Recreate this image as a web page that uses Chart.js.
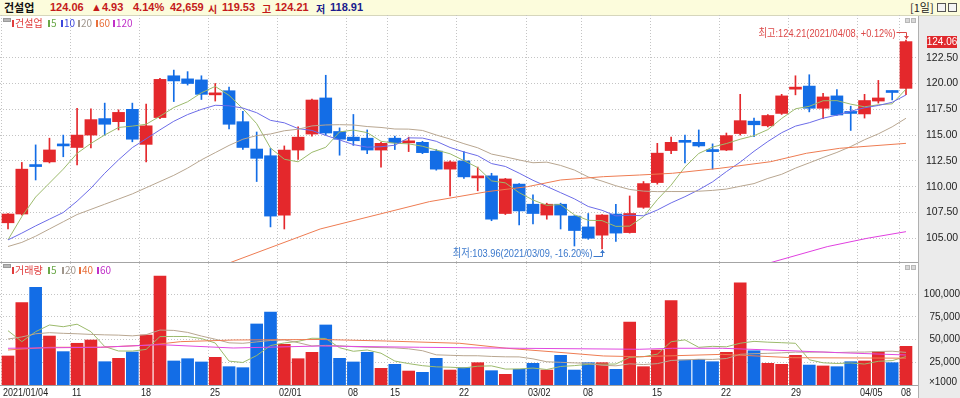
<!DOCTYPE html>
<html>
<head>
<meta charset="utf-8">
<script src="https://cdn.jsdelivr.net/npm/chart.js@4.4.1/dist/chart.umd.min.js"></script>
<style>
  body { margin: 0; width: 960px; height: 398px; background: #fff; position: relative; overflow: hidden;
         font-family: "Liberation Sans", "Noto Sans CJK KR", sans-serif; }
  #hdr { position: absolute; left: 0; top: 0; width: 960px; height: 16px; background: #fcfcdc;
         border-bottom: 1px solid #d6d6bc; box-sizing: border-box; }
  #hdr span { position: absolute; top: 1px; font-size: 11px; font-weight: bold; line-height: 13px; white-space: nowrap; }
  #hdr .k { font-family: "Noto Sans CJK KR", sans-serif; font-size: 11px; }
  #hdr .k1 { font-family: "Noto Sans CJK KR", sans-serif; font-size: 10px; top: 1.5px; }
  .r { color: #c41a1a; }
  .b { color: #1a1a8c; }
  .btn { position: absolute; top: 3px; width: 9px; height: 9px; border: 1px solid #555; background: #f4f4f4; box-sizing: border-box; }
  #axisbg { position: absolute; left: 918px; top: 16px; width: 42px; height: 382px; background: #ebebeb; border-left: 1px solid #b0b0b0; box-sizing: border-box; }
  .sep { position: absolute; left: 0; width: 918px; height: 1px; background: #a4a4a4; }
  canvas { position: absolute; left: 0; }
  #cPrice { top: 15px; }
  #cVol { top: 262px; }
  .lg { position: absolute; font-family: "Noto Sans CJK KR", sans-serif; font-size: 10px; line-height: 12px; white-space: nowrap; }
  .lg i { display: inline-block; width: 2px; height: 7px; margin-right: 1px; vertical-align: 0px; }
  .ic { position: absolute; width: 8px; height: 4px; background: #b8b8b8; border: 1px solid #9a9a9a; box-sizing: border-box; }
  .mini { position: absolute; width: 5px; height: 5px; background: #d8d8d8; border: 1px solid #b8b8b8; box-sizing: border-box; }
</style>
</head>
<body>
<div id="hdr">
  <span class="k" style="left:4px;color:#111">건설업</span>
  <span class="r" style="left:50px">124.06</span>
  <span class="r" style="left:91px">▲4.93</span>
  <span class="r" style="left:133px">4.14%</span>
  <span class="r" style="left:170px">42,659</span>
  <span class="r k1" style="left:208px">시</span>
  <span class="r" style="left:222px">119.53</span>
  <span class="r k1" style="left:262px">고</span>
  <span class="r" style="left:275px">124.21</span>
  <span class="b k1" style="left:316px">저</span>
  <span class="b" style="left:330px">118.91</span>
  <span class="k" style="left:910px;font-weight:normal;color:#222">[1일]</span>
  <div class="btn" style="left:937px"></div>
  <div class="btn" style="left:948px"></div>
</div>
<div id="axisbg"></div>

<canvas id="cPrice" width="960" height="247"></canvas>
<canvas id="cVol" width="960" height="136"></canvas>

<div class="sep" style="top:262px"></div>
<div class="sep" style="top:385px"></div>

<div class="ic" style="left:3px;top:18px"></div>
<div class="lg" style="left:12px;top:17px;color:#e03c3c"><i style="background:#e03c3c"></i>건설업</div>
<div class="lg" style="left:48px;top:17px;color:#6aa848"><i style="background:#6aa848"></i>5</div>
<div class="lg" style="left:61px;top:17px;color:#3c46dc"><i style="background:#3c46dc"></i>10</div>
<div class="lg" style="left:78px;top:17px;color:#a0968c"><i style="background:#a0968c"></i>20</div>
<div class="lg" style="left:96px;top:17px;color:#e8703c"><i style="background:#e8703c"></i>60</div>
<div class="lg" style="left:113px;top:17px;color:#c030c8"><i style="background:#c030c8"></i>120</div>
<div class="mini" style="left:905px;top:18px"></div>
<div class="mini" style="left:911px;top:18px"></div>

<div class="ic" style="left:3px;top:264px"></div>
<div class="lg" style="left:12px;top:264px;color:#e03c3c"><i style="background:#e03c3c"></i>거래량</div>
<div class="lg" style="left:48px;top:264px;color:#6aa848"><i style="background:#6aa848"></i>5</div>
<div class="lg" style="left:62px;top:264px;color:#a0968c"><i style="background:#a0968c"></i>20</div>
<div class="lg" style="left:79px;top:264px;color:#e8703c"><i style="background:#e8703c"></i>40</div>
<div class="lg" style="left:97px;top:264px;color:#c030c8"><i style="background:#c030c8"></i>60</div>
<div class="mini" style="left:905px;top:265px"></div>
<div class="mini" style="left:911px;top:265px"></div>

<script>
// 거래일 (2021)
const dates = [
  '01/04','01/05','01/06','01/07','01/08','01/11','01/12','01/13','01/14','01/15',
  '01/18','01/19','01/20','01/21','01/22','01/25','01/26','01/27','01/28','01/29',
  '02/01','02/02','02/03','02/04','02/05','02/08','02/09','02/10','02/15','02/16',
  '02/17','02/18','02/19','02/22','02/23','02/24','02/25','02/26','03/02','03/03',
  '03/04','03/05','03/08','03/09','03/10','03/11','03/12','03/15','03/16','03/17',
  '03/18','03/19','03/22','03/23','03/24','03/25','03/26','03/29','03/30','03/31',
  '04/01','04/02','04/05','04/06','04/07','04/08'
];

// 시가 / 고가 / 저가 / 종가
const open = [
  106.5, 107.35, 112.05, 112.4, 114.0, 113.8, 115.0, 116.6, 116.3, 117.5,
  114.1, 116.7, 120.75, 120.45, 120.35, 118.9, 119.3, 116.3, 113.65, 113.0,
  107.25, 113.55, 115.1, 118.6, 115.35, 114.8, 114.7, 113.55, 114.7, 114.25,
  114.3, 113.45, 111.7, 112.5, 110.85, 111.05, 107.4, 110.25, 108.3, 107.25,
  108.3, 107.15, 106.1, 105.3, 107.35, 105.55, 108.0, 110.4, 113.5, 114.4,
  114.3, 113.6, 113.55, 115.15, 116.35, 115.9, 117.1, 119.45, 119.75, 117.6,
  118.8, 117.15, 117.05, 118.3, 119.2, 119.53
];
const high = [
  107.4, 112.35, 114.05, 114.7, 115.0, 117.6, 117.55, 118.1, 117.45, 118.1,
  118.0, 120.5, 121.3, 121.15, 120.75, 120.0, 119.65, 117.3, 115.3, 113.7,
  113.95, 115.8, 118.5, 120.8, 115.7, 117.0, 115.5, 114.3, 114.9, 114.8,
  114.4, 113.6, 112.5, 113.4, 111.9, 111.3, 110.8, 110.3, 109.2, 108.4,
  108.4, 107.2, 107.4, 107.3, 108.3, 109.1, 110.5, 114.2, 114.8, 115.0,
  115.5, 114.15, 115.2, 118.95, 116.65, 117.0, 118.95, 120.75, 120.85, 119.05,
  119.4, 117.8, 118.95, 120.3, 119.3, 124.21
];
const low = [
  105.9, 107.25, 110.65, 112.3, 112.9, 112.1, 113.75, 115.0, 115.5, 114.35,
  112.4, 116.6, 118.25, 119.85, 118.45, 118.3, 115.6, 113.6, 110.5, 106.1,
  105.9, 112.65, 114.9, 115.0, 113.05, 114.0, 113.2, 111.9, 113.6, 113.4,
  113.2, 111.6, 109.1, 110.8, 109.6, 106.7, 107.3, 106.3, 106.4, 106.85,
  105.9, 104.25, 104.9, 103.96, 104.7, 105.5, 107.9, 110.25, 113.2, 112.3,
  113.85, 111.7, 113.5, 115.0, 114.85, 115.8, 117.0, 118.9, 117.25, 116.6,
  116.9, 115.45, 116.65, 118.1, 118.4, 118.91
];
const close = [
  107.35, 111.7, 111.95, 113.56, 113.95, 115.0, 116.5, 116.05, 117.2, 114.6,
  115.9, 120.4, 120.25, 120.0, 118.95, 119.0, 116.05, 113.8, 112.75, 107.15,
  113.55, 114.8, 118.4, 115.2, 114.6, 114.45, 113.55, 114.2, 114.25, 114.3,
  113.3, 111.7, 112.4, 110.95, 110.9, 106.85, 110.75, 107.65, 107.4, 108.3,
  107.25, 105.75, 105.0, 107.25, 105.5, 107.4, 110.3, 113.25, 114.3, 114.3,
  113.95, 113.4, 114.95, 116.4, 116.0, 116.9, 118.8, 119.65, 117.6, 118.7,
  116.95, 117.1, 118.35, 118.6, 119.13, 124.06
];

// 거래량
const volume = [
  32000, 90800, 107700, 54000, 36800, 46000, 49600, 25700, 29400, 36400,
  55100, 120200, 26500, 29000, 25400, 30500, 20200, 19100, 67300, 80500,
  44900, 29000, 36000, 66200, 29400, 25400, 36000, 18400, 22800, 15400,
  14000, 29400, 16500, 19100, 24600, 15800, 11800, 17300, 23900, 16500,
  32700, 16500, 24600, 24600, 17300, 69500, 20200, 38600, 93000, 27600,
  28300, 25700, 36000, 112800, 37800, 23900, 22800, 32700, 22000, 21000,
  20200, 25700, 26500, 36700, 24600, 42659
];

// 가격 이동평균 (5, 10, 20 일)
const ma5 = [
  104.85, 107.1, 109.0, 110.35, 111.7, 113.23, 114.19, 115.01, 115.74, 115.87,
  116.05, 116.83, 117.67, 118.23, 119.1, 119.72, 118.85, 117.56, 116.11, 113.75,
  112.66, 112.41, 113.33, 113.82, 115.31, 115.49, 115.24, 114.4, 114.21, 114.15,
  113.92, 113.55, 113.19, 112.53, 111.85, 110.56, 110.37, 109.42, 108.71, 108.19,
  108.27, 107.27, 106.74, 106.71, 106.15, 106.18, 107.09, 108.74, 110.15, 111.91,
  113.22, 113.84, 114.18, 114.6, 114.94, 115.53, 116.61, 117.55, 117.79, 118.33,
  118.34, 118.0, 117.74, 117.94, 118.03, 119.45
];
const ma10 = [
  104.84, 105.5, 106.2, 106.85, 107.5, 108.6, 109.85, 111.3, 112.6, 113.79,
  114.64, 115.51, 116.34, 116.99, 117.49, 117.89, 117.84, 117.62, 117.17, 116.43,
  116.19, 115.63, 115.45, 114.97, 114.53, 114.08, 113.83, 113.87, 114.02, 114.73,
  114.71, 114.4, 113.8, 113.37, 113.0, 112.24, 111.96, 111.31, 110.62, 110.02,
  109.42, 108.82, 108.08, 107.71, 107.17, 107.23, 107.18, 107.74, 108.43, 109.03,
  109.7, 110.47, 111.46, 112.38, 113.43, 114.38, 115.23, 115.87, 116.2, 116.64,
  116.94, 117.31, 117.65, 117.87, 118.18, 118.89
];
const ma20 = [
  104.2, 104.6, 105.2, 105.9, 106.6, 107.3, 107.8, 108.3, 108.8, 109.3,
  109.9, 110.5, 111.1, 111.8, 112.6, 113.3, 114.0, 114.6, 114.95, 115.11,
  115.42, 115.57, 115.89, 115.98, 116.01, 115.98, 115.83, 115.74, 115.59, 115.58,
  115.45, 115.01, 114.62, 114.17, 113.77, 113.16, 112.89, 112.59, 112.32, 112.38,
  112.06, 111.61, 110.94, 110.54, 110.09, 109.73, 109.57, 109.52, 109.53, 109.53,
  109.56, 109.64, 109.77, 110.04, 110.3, 110.8, 111.2, 111.8, 112.31, 112.83,
  113.32, 113.89, 114.55, 115.12, 115.8, 116.63
];
// 60, 120 일선: 그림에서 읽은 지점
const ma60Idx = [16, 22.6, 30.5, 34.7, 37.6, 40, 43.1, 45.7, 48.1, 51.5, 55.2, 57.8, 60.2, 65];
const ma60Val = [102.6, 105.9, 108.55, 109.52, 110.0, 110.65, 110.97, 111.13, 111.3, 111.78, 112.42, 113.24, 113.72, 114.2];
const ma120Idx = [55.2, 59.3, 62.2, 65];
const ma120Val = [102.64, 104.19, 105.0, 105.64];

// 거래량 이동평균 (5, 20, 40, 60)
const vma5 = [
  59900, 47800, 58800, 66200, 64260, 67060, 58820, 42420, 37500, 37420,
  39240, 53360, 53520, 53440, 51240, 46320, 26320, 24840, 32500, 43520,
  46400, 48160, 51540, 51320, 41100, 37200, 38600, 35080, 26400, 23600,
  21320, 20000, 19620, 18880, 20720, 21080, 17560, 17720, 18680, 17060,
  20440, 21380, 22840, 22980, 23140, 30500, 31240, 34040, 47720, 49780,
  41540, 42640, 42120, 46080, 48120, 47240, 46660, 46000, 27840, 24480,
  23740, 24320, 23080, 26140, 26860, 31320
];
const vma20 = [
  50700, 53000, 56500, 57700, 57000, 56500, 55800, 55300, 55000, 54200,
  55500, 60600, 60200, 58000, 54000, 50500, 46500, 46000, 47500, 49110,
  49760, 46670, 43080, 43690, 43320, 42290, 41610, 41250, 40920, 39870,
  37810, 33270, 32770, 32280, 32240, 31500, 31080, 30990, 28820, 25620,
  25010, 24390, 23820, 21740, 21130, 23340, 22550, 23560, 27070, 27680,
  28390, 28210, 29180, 33870, 34530, 34930, 35480, 36250, 36160, 36380,
  35760, 36220, 36310, 36920, 37280, 35940
];
const vma40Idx = [0, 3, 6.7, 10.3, 12.5, 16.3, 22.6, 27.4, 32.7, 36.1, 39.5, 43.1, 45.7, 51.7, 56.8, 65];
const vma40Val = [38600, 41600, 41600, 44100, 47800, 49600, 50200, 48500, 46000, 40500, 36500, 32000, 31200, 33800, 30100, 29600];
const vma60Idx = [0, 6.7, 11, 16.3, 22.6, 29.8, 37, 45.7, 48.1, 51.7, 56.6, 60.2, 65];
const vma60Val = [40500, 41600, 44500, 40800, 43000, 41600, 40500, 39400, 40500, 40500, 37800, 35600, 33100];

// 축 눈금
const priceTicks = [105, 107.5, 110, 112.5, 115, 117.5, 120, 122.5];
const volTicks = [25000, 50000, 75000, 100000];
const xTickIdx = [0, 5, 10, 15, 20, 25, 28, 33, 38, 42, 47, 52, 57, 62, 65];
const xTickText = ['2021/01/04', '11', '18', '25', '02/01', '08', '15', '22', '03/02', '08', '15', '22', '29', '04/05', '08'];

const RED = '#e4282c';
const BLUE = '#136de6';
const GRID = '#c4c4c4';
const candleColor = close.map((c, i) => c >= open[i] ? RED : BLUE);
const idx = dates.map((d, i) => i);
const pts = (xs, ys) => xs.map((x, k) => ({ x: x, y: ys[k] }));
const series = ys => ys.map((y, i) => ({ x: i, y: y }));

function maLine(data, color) {
    return { type: 'line', data: data, borderColor: color, borderWidth: 1, pointRadius: 0, tension: 0, fill: false, order: 0 };
}

function xAxis() {
    return {
        type: 'linear', min: -0.58, max: 65.87, offset: false,
        grid: { color: GRID, drawTicks: false, tickLength: 0, offset: false },
        border: { display: false, dash: [1, 2] },
        ticks: { display: false },
        afterBuildTicks: s => { s.ticks = xTickIdx.map(i => ({ value: i - 0.5 })); },
        afterFit: s => { s.height = 0; s.paddingLeft = 0; s.paddingRight = 0; }
    };
}

// 좁은 글꼴 대신 가로로 눌러서 그림
function narrowText(ctx, text, x, y, sx) {
    ctx.save();
    ctx.translate(x, y);
    ctx.scale(sx, 1);
    ctx.fillText(text, 0, 0);
    ctx.restore();
}

// 최고/최저 표시와 현재가 박스
const pricePlugin = {
    id: 'priceMarks',
    afterDraw(chart) {
        const { ctx, scales: { x, y }, chartArea } = chart;
        const last = close.length - 1;
        const hi = Math.max(...high), hiI = high.indexOf(hi);
        const lo = Math.min(...low), loI = low.indexOf(lo);
        const pct = v => ((v - close[last]) / close[last] * 100);
        ctx.save();
        ctx.font = '11px "Liberation Sans", "Noto Sans CJK KR", sans-serif';
        ctx.textBaseline = 'middle';
        ctx.lineWidth = 1;

        // 최고
        let px = Math.round(x.getPixelForValue(hiI)) + 0.5, py = y.getPixelForValue(hi);
        ctx.fillStyle = '#dc4848';
        ctx.strokeStyle = '#dc4848';
        ctx.textAlign = 'right';
        narrowText(ctx, '최고:' + hi.toFixed(2) + '(2021/' + dates[hiI] + ', +' + pct(hi).toFixed(2) + '%)', px - 11, py - 6, 0.84);
        ctx.beginPath();
        ctx.moveTo(px - 10, Math.round(py - 8) + 0.5);
        ctx.lineTo(px, Math.round(py - 8) + 0.5);
        ctx.lineTo(px, py - 1);
        ctx.stroke();
        ctx.beginPath();
        ctx.moveTo(px - 2.5, py - 4); ctx.lineTo(px + 2.5, py - 4); ctx.lineTo(px, py - 1); ctx.closePath();
        ctx.fill();

        // 최저
        px = Math.round(x.getPixelForValue(loI)) + 0.5; py = y.getPixelForValue(lo);
        ctx.fillStyle = '#3a78cc';
        ctx.strokeStyle = '#3a78cc';
        narrowText(ctx, '최저:' + lo.toFixed(2) + '(2021/' + dates[loI] + ', ' + pct(lo).toFixed(2) + '%)', px - 10, py + 5, 0.84);
        ctx.beginPath();
        ctx.moveTo(px - 9, Math.round(py + 7) + 0.5);
        ctx.lineTo(px, Math.round(py + 7) + 0.5);
        ctx.lineTo(px, py + 1);
        ctx.stroke();
        ctx.beginPath();
        ctx.moveTo(px - 2.5, py + 4); ctx.lineTo(px + 2.5, py + 4); ctx.lineTo(px, py + 1); ctx.closePath();
        ctx.fill();

        // 현재가
        const cy = Math.round(y.getPixelForValue(close[last]));
        ctx.fillStyle = '#e0282c';
        ctx.fillRect(chartArea.right + 9, cy - 6, 30, 12);
        ctx.fillStyle = '#fff';
        ctx.textAlign = 'center';
        ctx.font = '10px "Liberation Sans", sans-serif';
        ctx.fillText(close[last].toFixed(2), chartArea.right + 24, cy);
        ctx.restore();
    }
};

const volPlugin = {
    id: 'volLabels',
    afterDraw(chart) {
        const { ctx, scales: { x }, chartArea } = chart;
        ctx.save();
        ctx.font = '11px "Liberation Sans", sans-serif';
        ctx.fillStyle = '#222';
        ctx.textBaseline = 'middle';
        ctx.textAlign = 'left';
        xTickIdx.forEach((i, k) => {
            narrowText(ctx, xTickText[k], Math.round(x.getPixelForValue(i - 0.5)) + 2, chartArea.bottom + 8, 0.82);
        });
        ctx.textAlign = 'right';
        ctx.font = '10px "Liberation Sans", sans-serif';
        ctx.fillText('×1000', chartArea.right + 39, chartArea.bottom - 3);
        ctx.restore();
    }
};

Chart.defaults.font.family = '"Liberation Sans", "Noto Sans CJK KR", sans-serif';

// 1. 가격 차트
new Chart(document.getElementById('cPrice'), {
    type: 'bar',
    data: {
        datasets: [
            maLine(pts(ma120Idx, ma120Val), '#e040e0'),
            maLine(pts(ma60Idx, ma60Val), '#ee7c52'),
            maLine(series(ma20), '#b8a690'),
            maLine(series(ma10), '#6c6ce8'),
            maLine(series(ma5), '#9cba6c'),
            {
                data: idx.map(i => ({ x: i, y: [open[i], close[i]] })),
                backgroundColor: candleColor,
                barThickness: 12,
                minBarLength: 2,
                grouped: false,
                order: 1
            },
            {
                data: idx.map(i => ({ x: i, y: [low[i], high[i]] })),
                backgroundColor: candleColor,
                barThickness: 1,
                grouped: false,
                order: 2
            }
        ]
    },
    options: {
        responsive: false,
        animation: false,
        events: [],
        layout: { padding: 0 },
        plugins: { legend: { display: false }, tooltip: { enabled: false } },
        scales: {
            x: xAxis(),
            y: {
                position: 'right', min: 102.7, max: 126.64,
                grid: { color: GRID, drawTicks: false, tickLength: 0 },
                border: { display: false, dash: [1, 2] },
                ticks: { color: '#222', padding: 8, font: { size: 10.5 }, callback: v => v.toFixed(2) },
                afterBuildTicks: s => { s.ticks = priceTicks.map(v => ({ value: v })); },
                afterFit: s => { s.width = 42; s.paddingTop = 0; s.paddingBottom = 0; }
            }
        }
    },
    plugins: [pricePlugin]
});

// 2. 거래량 차트
new Chart(document.getElementById('cVol'), {
    type: 'bar',
    data: {
        datasets: [
            maLine(pts(vma60Idx, vma60Val), '#e048e0'),
            maLine(pts(vma40Idx, vma40Val), '#ee7c52'),
            maLine(series(vma20), '#b8a690'),
            maLine(series(vma5), '#9cba6c'),
            {
                data: idx.map(i => ({ x: i, y: volume[i] })),
                backgroundColor: candleColor,
                barThickness: 12,
                grouped: false,
                order: 1
            }
        ]
    },
    options: {
        responsive: false,
        animation: false,
        events: [],
        layout: { padding: { top: 1, bottom: 13, left: 0, right: 0 } },
        plugins: { legend: { display: false }, tooltip: { enabled: false } },
        scales: {
            x: xAxis(),
            y: {
                position: 'right', min: 0, max: 134540,
                grid: { color: GRID, drawTicks: false, tickLength: 0 },
                border: { display: false, dash: [1, 2] },
                ticks: { color: '#222', padding: 7, crossAlign: 'far', font: { size: 10 },
                         callback: v => v.toLocaleString('en-US') },
                afterBuildTicks: s => { s.ticks = volTicks.map(v => ({ value: v })); },
                afterFit: s => { s.width = 42; s.paddingTop = 0; s.paddingBottom = 0; }
            }
        }
    },
    plugins: [volPlugin]
});
</script>
</body>
</html>
